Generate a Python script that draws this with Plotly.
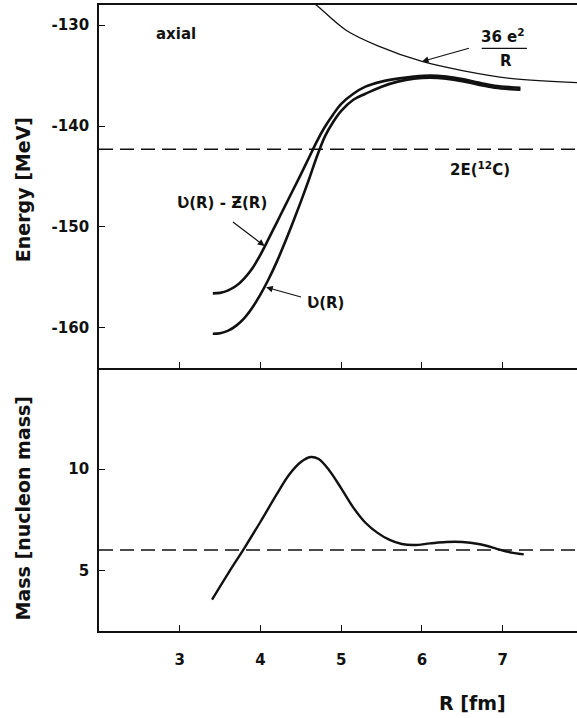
import plotly.graph_objects as go

# ---- data -------------------------------------------------------------
# V(R) - Z(R)
r_vz = [3.41, 3.50, 3.60, 3.70, 3.80, 3.90, 4.00, 4.10, 4.20, 4.30, 4.40, 4.50, 4.60, 4.70,
        4.80, 4.90, 5.00, 5.15, 5.30, 5.50, 5.70, 5.90, 6.10, 6.30, 6.50, 6.70, 6.90, 7.10, 7.22]
e_vz = [-156.6, -156.55, -156.3, -155.85, -155.1, -154.1, -152.75, -151.2, -149.6, -148.0,
        -146.4, -144.8, -143.15, -141.5, -140.05, -138.85, -137.8, -136.8, -136.1, -135.6,
        -135.3, -135.1, -135.0, -135.1, -135.35, -135.7, -136.0, -136.15, -136.2]

# V(R)
r_v = [3.41, 3.50, 3.60, 3.70, 3.80, 3.90, 4.00, 4.10, 4.20, 4.30, 4.40, 4.50, 4.60, 4.70,
       4.80, 4.90, 5.00, 5.15, 5.30, 5.50, 5.70, 5.90, 6.10, 6.30, 6.50, 6.70, 6.90, 7.10, 7.22]
e_v = [-160.6, -160.55, -160.3, -159.8, -159.05, -158.0, -156.7, -155.2, -153.5, -151.6,
       -149.6, -147.5, -145.3, -143.0, -141.0, -139.6, -138.5, -137.4, -136.8, -136.1,
       -135.6, -135.3, -135.2, -135.3, -135.55, -135.9, -136.2, -136.35, -136.4]

# Coulomb curve 36e^2/R
r_coul = [4.60, 4.69, 5.06, 5.47, 6.00, 6.50, 7.12, 7.95]
e_coul = [-127.5, -128.0, -130.5, -132.1, -133.6, -134.5, -135.3, -135.7]

# collective mass
r_mass = [3.40, 3.60, 3.80, 4.00, 4.20, 4.35, 4.50, 4.62, 4.72, 4.85, 5.00, 5.15, 5.30, 5.45,
          5.60, 5.75, 5.90, 6.10, 6.30, 6.50, 6.70, 6.90, 7.05, 7.26]
m_mass = [3.55, 4.85, 6.10, 7.40, 8.75, 9.70, 10.35, 10.60, 10.50, 9.95, 9.05, 8.10, 7.35, 6.85,
          6.50, 6.30, 6.25, 6.33, 6.40, 6.40, 6.30, 6.10, 5.92, 5.79]

two_e_c12 = -142.3      # 2E(12C)
mass_ref = 6.0          # reduced mass level

x_ticks = [3, 4, 5, 6, 7]
x_ticktext = ["3", "4", "5", "6", "7"]
e_ticks = [-130, -140, -150, -160]
e_ticktext = ["-130", "-140", "-150", "-160"]
m_ticks = [5, 10]
m_ticktext = ["5", "10"]

X_RANGE = [2.0, 7.92]
E_RANGE = [-164.0, -128.0]
M_RANGE = [2.0, 15.0]

FONT = "DejaVu Sans"
INK = "#111111"

fig = go.Figure()

line_kw = dict(shape="spline", smoothing=1.0)

fig.add_trace(go.Scatter(x=r_vz, y=e_vz, mode="lines", xaxis="x", yaxis="y",
                         line=dict(color=INK, width=2.6, **line_kw), hoverinfo="skip"))
fig.add_trace(go.Scatter(x=r_v, y=e_v, mode="lines", xaxis="x", yaxis="y",
                         line=dict(color=INK, width=2.6, **line_kw), hoverinfo="skip"))
fig.add_trace(go.Scatter(x=r_coul, y=e_coul, mode="lines", xaxis="x", yaxis="y",
                         line=dict(color=INK, width=1.3, **line_kw), hoverinfo="skip"))
fig.add_trace(go.Scatter(x=X_RANGE, y=[two_e_c12, two_e_c12], mode="lines", xaxis="x", yaxis="y",
                         line=dict(color=INK, width=1.5, dash="14px,7px"), hoverinfo="skip"))

fig.add_trace(go.Scatter(x=r_mass, y=m_mass, mode="lines", xaxis="x2", yaxis="y2",
                         line=dict(color=INK, width=2.4, **line_kw), hoverinfo="skip"))
fig.add_trace(go.Scatter(x=X_RANGE, y=[mass_ref, mass_ref], mode="lines", xaxis="x2", yaxis="y2",
                         line=dict(color=INK, width=1.5, dash="14px,7px"), hoverinfo="skip"))

split = 263 / 626

axis_common = dict(showline=True, linecolor=INK, linewidth=1.8, ticks="inside",
                   ticklen=6, tickwidth=1.4, tickcolor=INK, showgrid=False, zeroline=False,
                   tickfont=dict(family=FONT, size=15, color=INK))

fig.update_layout(
    width=577, height=718,
    margin=dict(l=99, r=0, t=5, b=87),
    paper_bgcolor="white", plot_bgcolor="white",
    showlegend=False,
    xaxis=dict(domain=[0, 1], range=X_RANGE, anchor="y", mirror=True,
               tickvals=x_ticks, showticklabels=False, **axis_common),
    yaxis=dict(domain=[split, 1], range=E_RANGE, anchor="x",
               tickvals=e_ticks, ticktext=[f"<b>{t}</b>" for t in e_ticktext],
               ticklabelstandoff=5, **axis_common),
    xaxis2=dict(domain=[0, 1], range=X_RANGE, anchor="y2", matches="x",
                tickvals=x_ticks, ticktext=[f"<b>{t}</b>" for t in x_ticktext],
                ticklabelstandoff=14, **axis_common),
    yaxis2=dict(domain=[0, split], range=M_RANGE, anchor="x2",
                tickvals=m_ticks, ticktext=[f"<b>{t}</b>" for t in m_ticktext],
                ticklabelstandoff=5, **axis_common),
)

title_font = dict(family=FONT, size=19, color=INK)
txt = dict(family=FONT, size=15, color=INK)
center = dict(xanchor="center", yanchor="middle", showarrow=False)

ann = []
# axis titles
ann.append(dict(text="<b>Energy [MeV]</b>", xref="paper", yref="paper", x=-0.16, y=0.705,
                textangle=-90, font=title_font, **center))
ann.append(dict(text="<b>Mass [nucleon mass]</b>", xref="paper", yref="paper", x=-0.16, y=0.195,
                textangle=-90, font=title_font, **center))
ann.append(dict(text="<b>R [fm]</b>", xref="x2", yref="paper", x=6.62, y=-0.115,
                font=title_font, **center))

# labels in the energy panel
ann.append(dict(text="<b>axial</b>", xref="x", yref="y", x=2.95, y=-130.9, font=txt, **center))
ann.append(dict(text="<b>2E(<sup>12</sup>C)</b>", xref="x", yref="y", x=6.72, y=-144.3, font=txt, **center))
ann.append(dict(text="<b>36 e<sup>2</sup></b>", xref="x", yref="y", x=7.0, y=-131.1, font=txt, **center))
ann.append(dict(text="<b>R</b>", xref="x", yref="y", x=7.04, y=-133.6, font=txt, **center))
ann.append(dict(text="<b>Ʋ(R) - Ƶ(R)</b>", xref="x", yref="y", x=3.52, y=-147.6, font=txt, **center))
ann.append(dict(text="<b>Ʋ(R)</b>", xref="x", yref="y", x=4.81, y=-157.6, font=txt, **center))

# arrows pointing at the curves
arrow_kw = dict(showarrow=True, arrowhead=2, arrowsize=1.1, arrowwidth=1.2, arrowcolor=INK,
                axref="x", ayref="y", xref="x", yref="y", text="")
ann.append(dict(x=6.0, y=-133.6, ax=6.60, ay=-132.25, **arrow_kw))
ann.append(dict(x=4.05, y=-151.9, ax=3.64, ay=-149.4, **arrow_kw))
ann.append(dict(x=4.07, y=-156.0, ax=4.52, ay=-157.0, **arrow_kw))

fig.update_layout(annotations=ann)

# fraction bar of 36e^2/R
fig.add_shape(type="line", xref="x", yref="y", x0=6.74, x1=7.30, y0=-132.3, y1=-132.3,
              line=dict(color=INK, width=1.4))

fig.write_html("out.html")
